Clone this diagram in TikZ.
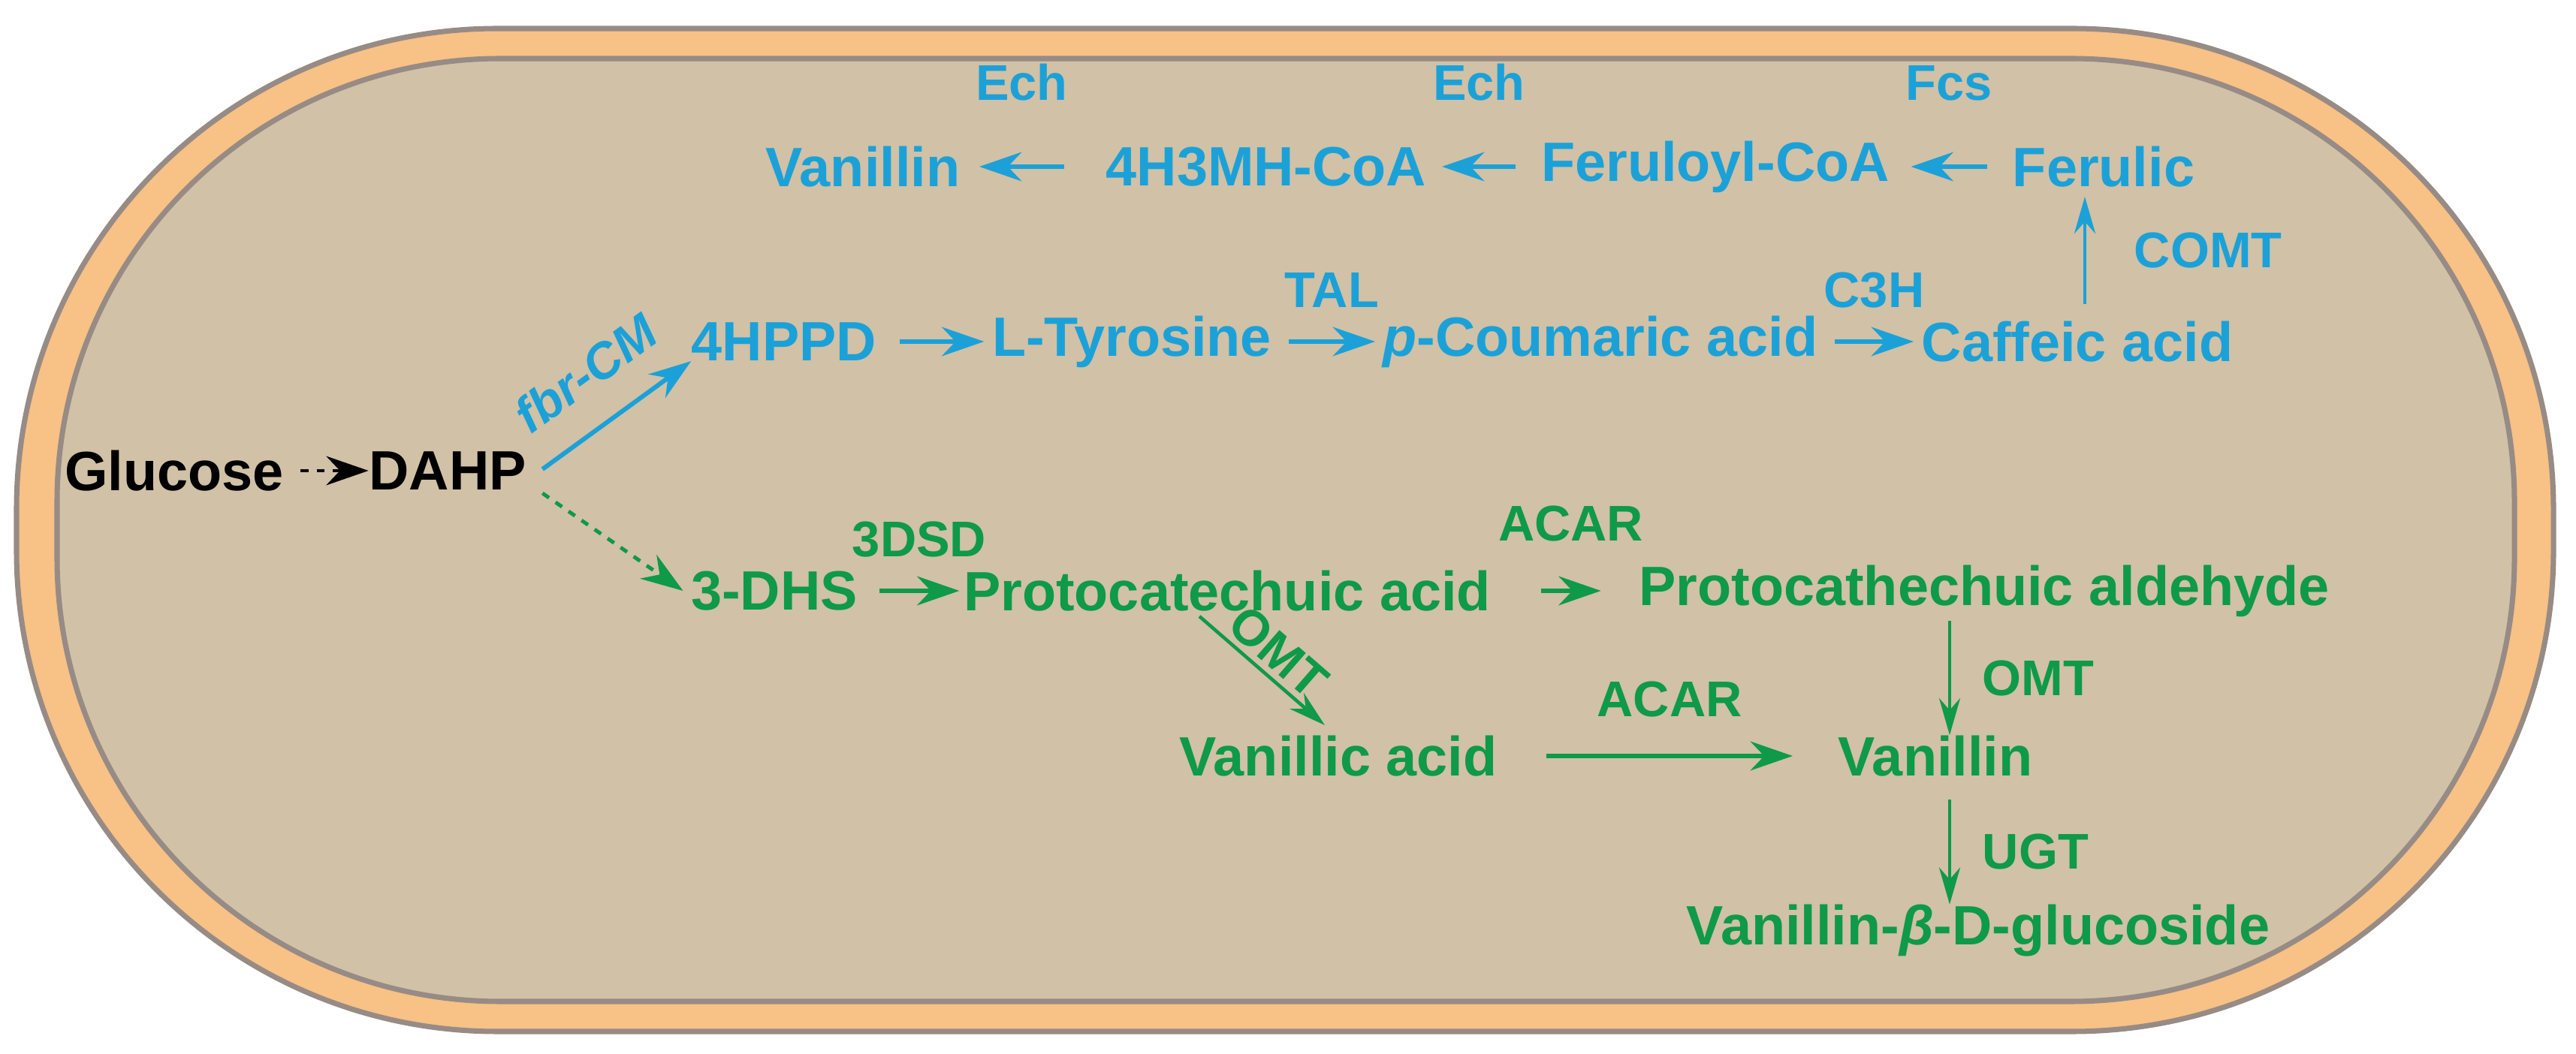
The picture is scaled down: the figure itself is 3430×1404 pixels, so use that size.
\documentclass[tikz,border=0pt]{standalone}
\usepackage{fontspec}
\setmainfont{Liberation Sans}
\usetikzlibrary{arrows.meta}
\definecolor{memb}{HTML}{F8C185}
\definecolor{cyto}{HTML}{D1C1A6}
\definecolor{rim}{HTML}{978B86}
\definecolor{pblue}{HTML}{1BA1D8}
\definecolor{pgreen}{HTML}{0E9A48}
\tikzset{
  met/.style={font=\fontsize{21}{24}\selectfont\bfseries, inner sep=0pt},
  enz/.style={font=\fontsize{19}{22}\selectfont\bfseries, inner sep=0pt},
  rxn/.style={-{Stealth[length=16pt,width=11pt]}, line width=1.7pt},
  thin rxn/.style={-{Stealth[length=14pt,width=8pt]}, line width=1pt}
}
\begin{document}
\begin{tikzpicture}[x=0.01cm, y=-0.01cm]
  \useasboundingbox (0,0) rectangle (3430,1404);
  % cell
  \draw[rim, line width=2pt, fill=memb, rounded corners=6.4cm] (22,1374) rectangle (3400,38);
  \draw[rim, line width=2pt, fill=cyto, rounded corners=5.9cm] (76,1334) rectangle (3348,78);
  % black part
  \begin{scope}[every node/.style={met, text=black}]
    \node (glc) at (232,627) {Glucose};
    \node (dahp) at (596,627) {DAHP};
  \end{scope}
  % blue pathway
  \begin{scope}[every node/.style={met, text=pblue}]
    \node (van1) at (1149,222) {Vanillin};
    \node (hmh) at (1686,222) {4H3MH-CoA};
    \node (fcoa) at (2284,222) {Feruloyl-CoA};
    \node (fer) at (2801,222) {Ferulic};
    \node (hppd) at (1044,455) {4HPPD};
    \node (tyr) at (1507,455) {L-Tyrosine};
    \node (cou) at (2131,455) {\textit{p}-Coumaric acid};
    \node (caf) at (2766,455) {Caffeic acid};
  \end{scope}
  % green pathway
  \begin{scope}[every node/.style={met, text=pgreen}]
    \node (dhs) at (1031,787) {3-DHS};
    \node (pca) at (1634,787) {Protocatechuic acid};
    \node (pal) at (2642,787) {Protocathechuic aldehyde};
    \node (vac) at (1782,1007) {Vanillic acid};
    \node (van2) at (2577,1007) {Vanillin};
    \node (vgl) at (2634,1240) {Vanillin-\textit{β}-D-glucoside};
  \end{scope}
  \draw[rxn, dashed, line width=1.4pt] ([xshift=0.22cm]glc.east) -- (dahp.west);
  \begin{scope}[pblue, every node/.style={enz, text=pblue}]
    \draw[rxn] ([xshift=-0.55cm]hmh.west) -- ([xshift=0.25cm]van1.east) node[midway, above=24pt] {Ech};
    \draw[rxn] ([xshift=-0.33cm]fcoa.west) -- ([xshift=0.2cm]hmh.east) node[midway, above=24pt] {Ech};
    \draw[rxn] ([xshift=-0.33cm]fer.west) -- ([xshift=0.28cm]fcoa.east) node[midway, above=24pt] {Fcs};
    \draw[thin rxn, line width=1.4pt] (2776,405) coordinate (c0) -- (2776,262) coordinate (c1) node[midway, right=18pt] {COMT};
    \draw[rxn] ([shift={(0.21cm,0.02cm)}]dahp.east) -- (hppd.south west) node[midway, above=12pt, sloped] {\textit{fbr-CM}};
    \draw[rxn] ([xshift=0.3cm]hppd.east) -- ([xshift=-0.1cm]tyr.west);
    \draw[rxn] ([xshift=0.22cm]tyr.east) -- ([xshift=-0.1cm]cou.west) node[midway, above=12pt] {TAL};
    \draw[rxn] ([xshift=0.22cm]cou.east) -- ([xshift=-0.1cm]caf.west) node[midway, above=12pt] {C3H};
  \end{scope}
  \begin{scope}[pgreen, every node/.style={enz, text=pgreen}]
    \draw[rxn, dashed, line width=1.4pt] ([shift={(0.21cm,-0.3cm)}]dahp.east) -- ([xshift=-0.1cm]dhs.west);
    \draw[rxn] ([xshift=0.28cm]dhs.east) -- ([xshift=-0.05cm]pca.west) node[midway, above=12pt] {3DSD};
    \draw[rxn] ([xshift=0.66cm]pca.east) -- ([xshift=-0.5cm]pal.west) node[midway, above=18pt] {ACAR};
    \draw[thin rxn, line width=1.3pt] (1597,821) coordinate (o0) -- (1764,966) coordinate (o1) node[midway, above=2pt, sloped] {OMT};
    \draw[rxn] ([xshift=0.65cm]vac.east) -- ([xshift=-0.6cm]van2.west) node[midway, above=14pt] {ACAR};
    \draw[thin rxn] (2596,827) coordinate (m0) -- (van2.north -| m0) node[midway, right=12pt] {OMT};
    \draw[thin rxn] (2596,1065) coordinate (u0) -- (vgl.north -| u0) node[midway, right=12pt] {UGT};
  \end{scope}
\end{tikzpicture}
\end{document}
